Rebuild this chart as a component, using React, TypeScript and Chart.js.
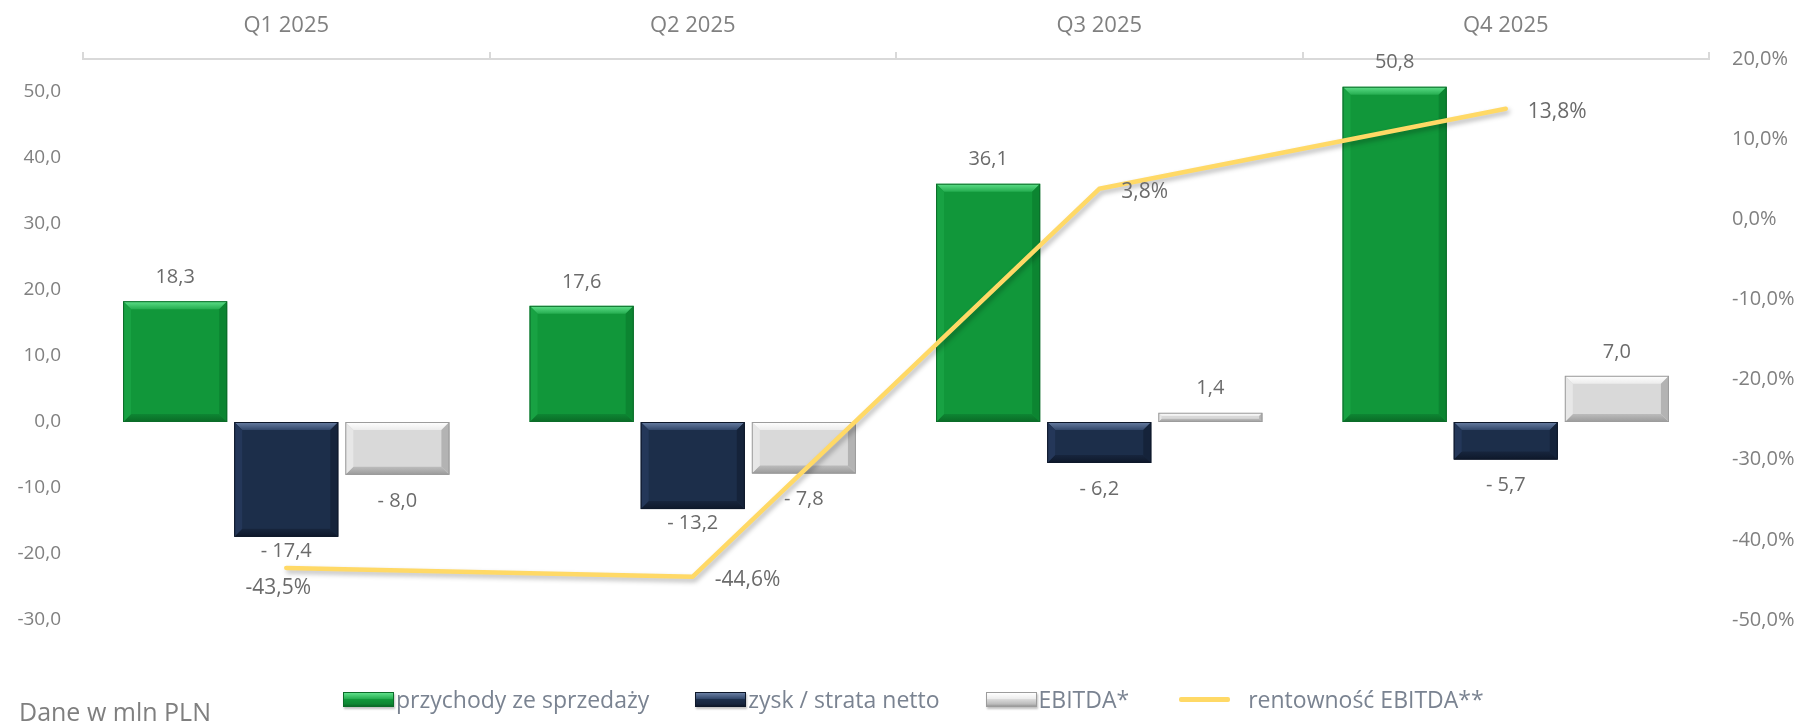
import React, { useEffect, useRef } from 'react';
import { Chart, registerables } from 'chart.js';

Chart.register(...registerables);

// ---------- data ----------
const quarters = ['Q1 2025', 'Q2 2025', 'Q3 2025', 'Q4 2025'];
const revenue = [18.3, 17.6, 36.1, 50.8];
const netProfit = [-17.4, -13.2, -6.2, -5.7];
const ebitda = [-8.0, -7.8, 1.4, 7.0];
const ebitdaMargin = [-43.5, -44.6, 3.8, 13.8];
const leftTicks = [-30, -20, -10, 0, 10, 20, 30, 40, 50];
const rightTicks = [-50, -40, -30, -20, -10, 0, 10, 20];
const seriesNames = ['przychody ze sprzedaży', 'zysk / strata netto', 'EBITDA*', 'rentowność EBITDA**'];
const unitNote = 'Dane w mln PLN';
const marginLabelSide = ['below', 'right', 'right', 'right'];

// ---------- styles ----------
const FONT = '"Open Sans", sans-serif';
const TICK_COLOR = '#808080';
const LABEL_COLOR = '#6b6b6b';
const LINE_COLOR = '#FFD966';

type Pal = { base: string; light: string; lightEnd: string; dark: string; darkStart: string; left: string; right: string; border: string };
const palettes: Pal[] = [
  { base: '#11973a', light: '#5fe08a', lightEnd: '#25ad50', dark: '#0a6a26', darkStart: '#0e8633', left: '#18a243', right: '#0c8531', border: '#0b6c29' },
  { base: '#1c2e4a', light: '#6a80a4', lightEnd: '#32476a', dark: '#0e182a', darkStart: '#17253d', left: '#243759', right: '#15233a', border: '#0e182a' },
  { base: '#d9d9d9', light: '#ffffff', lightEnd: '#ececec', dark: '#9a9a9a', darkStart: '#bcbcbc', left: '#e7e7e7', right: '#b3b3b3', border: '#9c9c9c' },
];

const fmt = (v: number) => v.toFixed(1).replace('.', ',');
const fmtBar = (v: number) => (v < 0 ? '- ' + fmt(-v) : fmt(v));
const fmtPct = (v: number) => fmt(v) + '%';

function poly(ctx: CanvasRenderingContext2D, pts: number[][], fill: any) {
  ctx.beginPath();
  ctx.moveTo(pts[0][0], pts[0][1]);
  for (let i = 1; i < pts.length; i++) ctx.lineTo(pts[i][0], pts[i][1]);
  ctx.closePath();
  ctx.fillStyle = fill;
  ctx.fill();
}

function drawBevel(ctx: CanvasRenderingContext2D, l: number, t: number, r: number, b: number, pal: Pal) {
  const h = b - t;
  const w = r - l;
  const s = Math.max(1, Math.min(8, h * 0.35, w * 0.2));
  let g = ctx.createLinearGradient(0, t, 0, t + s);
  g.addColorStop(0, pal.light);
  g.addColorStop(1, pal.lightEnd);
  poly(ctx, [[l, t], [r, t], [r - s, t + s], [l + s, t + s]], g);
  g = ctx.createLinearGradient(0, b - s, 0, b);
  g.addColorStop(0, pal.darkStart);
  g.addColorStop(1, pal.dark);
  poly(ctx, [[l, b], [r, b], [r - s, b - s], [l + s, b - s]], g);
  poly(ctx, [[l, t], [l + s, t + s], [l + s, b - s], [l, b]], pal.left);
  poly(ctx, [[r, t], [r - s, t + s], [r - s, b - s], [r, b]], pal.right);
  ctx.strokeStyle = pal.border;
  ctx.lineWidth = 1;
  ctx.strokeRect(l + 0.5, t + 0.5, w - 1, h - 1);
}

const shadowPlugin = {
  id: 'shadowBevel',
  beforeDatasetDraw(chart: any, args: any) {
    const ctx = chart.ctx;
    ctx.save();
    const isLine = chart.data.datasets[args.index].type === 'line';
    ctx.shadowColor = isLine ? 'rgba(0,0,0,0.28)' : 'rgba(0,0,0,0.35)';
    ctx.shadowBlur = isLine ? 5 : 8;
    ctx.shadowOffsetX = isLine ? 2 : 3;
    ctx.shadowOffsetY = isLine ? 3 : 4;
  },
  afterDatasetDraw(chart: any, args: any) {
    const ctx = chart.ctx;
    ctx.restore();
    const ds = chart.data.datasets[args.index];
    if (ds.type !== 'bar') return;
    const pal = palettes[args.index];
    const meta = chart.getDatasetMeta(args.index);
    meta.data.forEach((el: any) => {
      const p = el.getProps(['x', 'y', 'base', 'width'], true);
      const l = p.x - p.width / 2;
      const r = p.x + p.width / 2;
      const t = Math.min(p.y, p.base);
      const b = Math.max(p.y, p.base);
      if (b - t < 1) return;
      drawBevel(ctx, l, t, r, b, pal);
    });
  },
};

function lineYAt(points: any[], x: number) {
  for (let i = 0; i < points.length - 1; i++) {
    const a = points[i], c = points[i + 1];
    if (x >= a.x && x <= c.x) return a.y + ((x - a.x) / (c.x - a.x)) * (c.y - a.y);
  }
  if (x < points[0].x) return points[0].y;
  return points[points.length - 1].y;
}

const labelPlugin = {
  id: 'valueLabels',
  afterDatasetsDraw(chart: any) {
    const ctx = chart.ctx;
    ctx.save();
    ctx.fillStyle = LABEL_COLOR;
    ctx.textBaseline = 'middle';
    const lineIdx = chart.data.datasets.findIndex((d: any) => d.type === 'line');
    const linePts = chart.getDatasetMeta(lineIdx).data.map((e: any) => ({ x: e.x, y: e.y }));
    chart.data.datasets.forEach((ds: any, di: number) => {
      const meta = chart.getDatasetMeta(di);
      meta.data.forEach((el: any, i: number) => {
        const v = ds.data[i];
        if (ds.type === 'bar') {
          ctx.font = `20px ${FONT}`;
          ctx.textAlign = 'center';
          let y;
          if (v >= 0) y = el.y - 24;
          else {
            y = el.y + 26;
            const ly = lineYAt(linePts, el.x);
            if (ly > y - 5 && ly - y < 45) y = el.y + 14;
          }
          ctx.fillText(fmtBar(v), el.x, y);
        } else {
          ctx.font = `21px ${FONT}`;
          if (marginLabelSide[i] === 'below') {
            ctx.textAlign = 'center';
            ctx.fillText(fmtPct(v), el.x - 8, el.y + 20);
          } else {
            ctx.textAlign = 'left';
            ctx.fillText(fmtPct(v), el.x + 22, el.y + 3);
          }
        }
      });
    });
    ctx.restore();
  },
};

function LegendBox({ pal }: { pal: Pal }) {
  return (
    <div
      style={{
        width: 51,
        height: 15,
        boxSizing: 'border-box',
        border: `1px solid ${pal.border}`,
        background: `linear-gradient(to bottom, ${pal.light} 0%, ${pal.lightEnd} 45%, ${pal.base} 50%, ${pal.darkStart} 85%, ${pal.dark} 100%)`,
        boxShadow: '1px 2px 2px rgba(0,0,0,0.25)',
        flex: 'none',
      }}
    />
  );
}

export default function App() {
  const ref = useRef<HTMLCanvasElement>(null);

  useEffect(() => {
    let chart: Chart | null = null;
    let cancelled = false;
    const build = () => {
      if (cancelled || !ref.current) return;
      const barCommon = { type: 'bar' as const, yAxisID: 'y', order: 1, borderWidth: 1, barPercentage: 0.937, categoryPercentage: 0.82 };
      chart = new Chart(ref.current, {
        type: 'bar',
        data: {
          labels: quarters,
          datasets: [
            { ...barCommon, label: seriesNames[0], data: revenue, backgroundColor: palettes[0].base, borderColor: palettes[0].border },
            { ...barCommon, label: seriesNames[1], data: netProfit, backgroundColor: palettes[1].base, borderColor: palettes[1].border },
            { ...barCommon, label: seriesNames[2], data: ebitda, backgroundColor: palettes[2].base, borderColor: palettes[2].border },
            {
              type: 'line' as const,
              label: seriesNames[3],
              data: ebitdaMargin,
              yAxisID: 'y1',
              order: 0,
              borderColor: LINE_COLOR,
              backgroundColor: LINE_COLOR,
              borderWidth: 4.5,
              pointRadius: 0,
              tension: 0,
              borderCapStyle: 'round',
              borderJoinStyle: 'round',
            } as any,
          ],
        },
        options: {
          responsive: false,
          animation: false,
          devicePixelRatio: 1,
          layout: { padding: { left: 0, right: 0, top: 0, bottom: 105 } },
          plugins: { legend: { display: false }, tooltip: { enabled: false } },
          scales: {
            x: {
              position: 'top',
              offset: true,
              grid: { display: true, offset: true, drawOnChartArea: false, drawTicks: true, tickLength: 7, color: '#d9d9d9', lineWidth: 2 },
              border: { display: true, color: '#d9d9d9', width: 2 },
              ticks: { color: TICK_COLOR, font: { family: FONT, size: 22 }, padding: 13, maxRotation: 0 },
              afterFit: (s: any) => { s.height = 59; },
            },
            y: {
              position: 'left',
              min: -30,
              max: 55,
              grid: { display: false, drawTicks: false },
              border: { display: false },
              ticks: { color: TICK_COLOR, font: { family: FONT, size: 19 }, padding: 22, callback: (v: any) => fmt(Number(v)) },
              afterBuildTicks: (s: any) => { s.ticks = leftTicks.map((v) => ({ value: v })); },
              afterFit: (s: any) => { s.width = 83; },
            },
            y1: {
              position: 'right',
              min: -50,
              max: 20,
              grid: { display: false, drawTicks: false },
              border: { display: false },
              ticks: { color: TICK_COLOR, font: { family: FONT, size: 20 }, padding: 23, callback: (v: any) => fmtPct(Number(v)) },
              afterBuildTicks: (s: any) => { s.ticks = rightTicks.map((v) => ({ value: v })); },
              afterFit: (s: any) => { s.width = 91; },
            },
          },
        } as any,
        plugins: [shadowPlugin, labelPlugin],
      });
    };
    document.fonts.load(`19px ${FONT}`).then(build, build);
    return () => {
      cancelled = true;
      if (chart) chart.destroy();
    };
  }, []);

  return (
    <div style={{ position: 'absolute', left: 0, top: 0, width: 1800, height: 725, overflow: 'hidden', background: '#fff' }}>
      <canvas ref={ref} width={1800} height={725} style={{ display: 'block', width: 1800, height: 725 }} />
      <div
        style={{
          position: 'absolute',
          left: 343,
          top: 687,
          height: 24,
          display: 'flex',
          alignItems: 'center',
          fontFamily: FONT,
          fontSize: 23,
          lineHeight: '24px',
          color: '#7a8391',
          whiteSpace: 'nowrap',
        }}
      >
        {seriesNames.map((name, i) => (
          <div key={name} style={{ display: 'flex', alignItems: 'center', marginLeft: i === 0 ? 0 : i === 3 ? 50 : 46 }}>
            {i < 3 ? (
              <LegendBox pal={palettes[i]} />
            ) : (
              <div style={{ width: 51, height: 5, background: LINE_COLOR, borderRadius: 2, flex: 'none' }} />
            )}
            <span style={{ marginLeft: i === 3 ? 18 : 2 }}>{name}</span>
          </div>
        ))}
      </div>
      <div
        style={{
          position: 'absolute',
          left: 19,
          top: 699,
          fontFamily: FONT,
          fontSize: 25,
          lineHeight: '25px',
          color: '#7f7f7f',
          whiteSpace: 'nowrap',
        }}
      >
        {unitNote}
      </div>
    </div>
  );
}
